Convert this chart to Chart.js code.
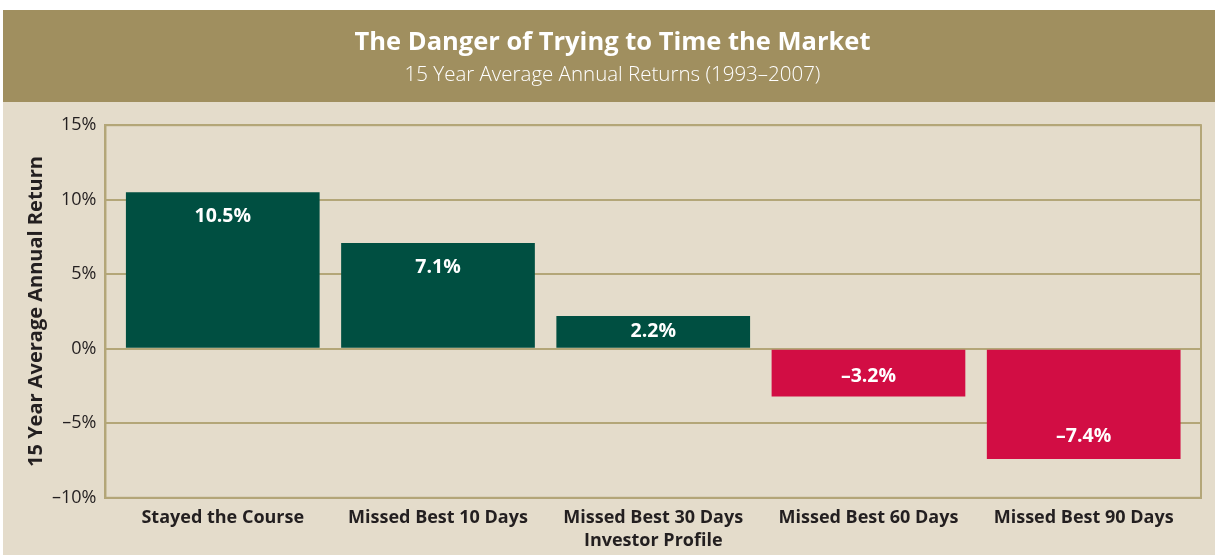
<!DOCTYPE html>
<html>
<head>
<meta charset="utf-8">
<script src="https://cdn.jsdelivr.net/npm/chart.js@4.4.1/dist/chart.umd.min.js"></script>
<style>
  html, body { margin: 0; padding: 0; background: #ffffff; }
  canvas { display: block; }
</style>
</head>
<body>
<canvas id="timingChart" width="1215" height="555"></canvas>
<script>
// data
const profiles = ["Stayed the Course", "Missed Best 10 Days", "Missed Best 30 Days", "Missed Best 60 Days", "Missed Best 90 Days"];
const avgReturns = [10.5, 7.1, 2.2, -3.2, -7.4];
const yTicks = [-10, -5, 0, 5, 10, 15];

const GREEN = "#004f41";
const RED = "#d20d44";
const GRID = "#b3a678";
const FONT = "'Open Sans', 'Noto Sans', sans-serif";

function pct(v) {
  return (v < 0 ? "\u2013" + Math.abs(v) : v) + "%";
}

// header band + beige panel behind everything
const panelBg = {
  id: "panelBg",
  beforeDraw(chart) {
    const ctx = chart.ctx;
    ctx.save();
    ctx.fillStyle = "#ffffff";
    ctx.fillRect(0, 0, chart.width, chart.height);
    ctx.fillStyle = "#e4dccb";
    ctx.fillRect(3, 102, chart.width - 3, chart.height - 102);
    ctx.fillStyle = "#a08f5f";
    ctx.fillRect(3, 10, chart.width - 3, 92);
    ctx.restore();
  }
};

// frame round the plot area
const plotFrame = {
  id: "plotFrame",
  afterDatasetsDraw(chart) {
    const a = chart.chartArea, ctx = chart.ctx;
    ctx.save();
    ctx.strokeStyle = GRID;
    ctx.lineWidth = 2;
    ctx.strokeRect(a.left, a.top, a.right - a.left, a.bottom - a.top);
    ctx.restore();
  }
};

// white value labels inside the bars, near the far end
const barLabels = {
  id: "barLabels",
  afterDatasetsDraw(chart) {
    const ctx = chart.ctx;
    const meta = chart.getDatasetMeta(0);
    ctx.save();
    ctx.fillStyle = "#ffffff";
    ctx.font = "bold 19.5px " + FONT;
    ctx.textAlign = "center";
    ctx.textBaseline = "middle";
    meta.data.forEach((bar, i) => {
      const v = avgReturns[i];
      const mid = (bar.y + bar.base) / 2;
      const y = v >= 0 ? Math.min(bar.y + 24, mid) : Math.max(bar.y - 23, mid + 3);
      ctx.fillText(pct(v), bar.x, y);
    });
    ctx.restore();
  }
};

new Chart(document.getElementById("timingChart"), {
  type: "bar",
  data: {
    datasets: [{
      data: avgReturns.map((v, i) => ({ x: i, y: v })),
      backgroundColor: avgReturns.map(v => v >= 0 ? GREEN : RED),
      barPercentage: 0.9,
      categoryPercentage: 1
    }]
  },
  options: {
    responsive: false,
    animation: false,
    devicePixelRatio: 1,
    layout: { padding: { left: 24, right: 14, top: 0, bottom: 3 } },
    plugins: {
      legend: { display: false },
      tooltip: { enabled: false },
      title: {
        display: true,
        text: "The Danger of Trying to Time the Market",
        color: "#ffffff",
        font: { family: FONT, size: 25.5, weight: "bold" },
        padding: { top: 27, bottom: 4 }
      },
      subtitle: {
        display: true,
        text: "15 Year Average Annual Returns (1993\u20132007)",
        color: "#ffffff",
        font: { family: FONT, size: 20.5, weight: "300" },
        padding: { top: 1, bottom: 38 }
      }
    },
    scales: {
      x: {
        type: "linear",
        offset: false,
        min: -0.545,
        max: 4.545,
        afterBuildTicks(axis) { axis.ticks = profiles.map((p, i) => ({ value: i })); },
        grid: { display: false },
        border: { display: true, color: GRID, width: 2 },
        ticks: {
          color: "#231f20",
          font: { family: FONT, size: 18, weight: "bold" },
          padding: 1,
          maxRotation: 0,
          autoSkip: false,
          callback: v => profiles[v]
        },
        title: {
          display: true,
          text: "Investor Profile",
          color: "#231f20",
          font: { family: FONT, size: 18, weight: "bold" },
          padding: { top: 1, bottom: 0 }
        }
      },
      y: {
        min: -10,
        max: 15,
        afterBuildTicks(axis) { axis.ticks = yTicks.map(v => ({ value: v })); },
        grid: { color: GRID, lineWidth: 2, drawTicks: false },
        border: { display: true, color: GRID, width: 2 },
        ticks: {
          color: "#231f20",
          font: { family: FONT, size: 18 },
          padding: 9,
          callback: v => pct(v)
        },
        title: {
          display: true,
          text: "15 Year Average Annual Return",
          color: "#231f20",
          font: { family: FONT, size: 20, weight: "bold" },
          padding: { top: 0, bottom: -5 }
        }
      }
    }
  },
  plugins: [panelBg, plotFrame, barLabels]
});
</script>
</body>
</html>
